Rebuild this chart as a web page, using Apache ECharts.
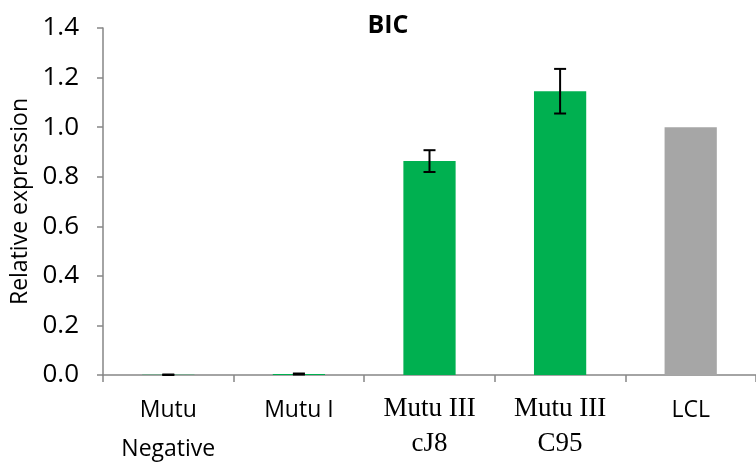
<!DOCTYPE html>
<html>
<head>
<meta charset="utf-8">
<script src="https://cdn.jsdelivr.net/npm/echarts@6/dist/echarts.min.js"></script>
<style>
  html, body { margin: 0; padding: 0; background: #fff; }
  #chart { width: 756px; height: 466px; }
</style>
</head>
<body>
<div id="chart"></div>
<script>
// Relative BIC expression per cell line, with standard-error bars
const categories = ['Mutu Negative', 'Mutu I', 'Mutu III cJ8', 'Mutu III C95', 'LCL'];
const expression = [0.001, 0.004, 0.863, 1.145, 1.0];
const errors = [0.001, 0.002, 0.044, 0.09, 0];
const yTicks = [0, 0.2, 0.4, 0.6, 0.8, 1.0, 1.2, 1.4];

// label text split over two lines, with the font family used for each
const labelLines = {
  'Mutu Negative': ['Mutu', 'Negative', 'sans'],
  'Mutu I': ['Mutu I', null, 'sans'],
  'Mutu III cJ8': ['Mutu III', 'cJ8', 'serif'],
  'Mutu III C95': ['Mutu III', 'C95', 'serif'],
  'LCL': ['LCL', null, 'sans']
};

const GREEN = '#00B050';
const GREY = '#A6A6A6';
const AXIS = '#868686';

const chart = echarts.init(document.getElementById('chart'), null, { renderer: 'canvas' });

const errData = categories.map((c, i) => [i, expression[i] - errors[i], expression[i] + errors[i]]);

chart.setOption({
  animation: false,
  backgroundColor: '#fff',
  title: {
    text: 'BIC',
    left: 383,
    top: 8,
    textAlign: 'center',
    textStyle: { fontFamily: 'Open Sans', fontWeight: 'bold', fontSize: 25, color: '#000' }
  },
  grid: { left: 103, top: 28, width: 661, height: 347, containLabel: false },
  xAxis: {
    type: 'category',
    data: categories,
    axisLine: { lineStyle: { color: AXIS, width: 1.5 } },
    axisTick: { show: true, length: 7, lineStyle: { color: AXIS, width: 1.5 } },
    axisLabel: {
      margin: 16,
      interval: 0,
      formatter: function (v) {
        const l = labelLines[v];
        const s = l[2];
        return l[1] ? '{' + s + '|' + l[0] + '}\n{' + s + '|' + l[1] + '}' : '{' + s + '|' + l[0] + '}';
      },
      rich: {
        sans: { fontFamily: 'Open Sans', fontSize: 23, color: '#000', lineHeight: 39 },
        serif: { fontFamily: 'Liberation Serif', fontSize: 27, color: '#000', lineHeight: 35 }
      }
    }
  },
  yAxis: {
    type: 'value',
    min: yTicks[0],
    max: yTicks[yTicks.length - 1],
    interval: 0.2,
    name: 'Relative expression',
    nameLocation: 'middle',
    nameRotate: 90,
    nameGap: 66,
    nameTextStyle: { fontFamily: 'Open Sans', fontSize: 23, color: '#000' },
    axisLine: { show: true, lineStyle: { color: AXIS, width: 1.5 } },
    axisTick: { show: true, length: 6, lineStyle: { color: AXIS, width: 1.5 } },
    splitLine: { show: false },
    axisLabel: {
      margin: 24,
      formatter: v => v.toFixed(1),
      fontFamily: 'Open Sans',
      fontSize: 26,
      color: '#000'
    }
  },
  series: [
    {
      type: 'bar',
      data: expression,
      barWidth: '40%',
      itemStyle: {
        color: p => (p.name === 'LCL' ? GREY : GREEN)
      }
    },
    {
      type: 'custom',
      data: errData,
      z: 10,
      renderItem: function (params, api) {
        const i = api.value(0);
        const lo = api.coord([i, api.value(1)]);
        const hi = api.coord([i, api.value(2)]);
        if (Math.abs(hi[1] - lo[1]) < 0.01) return null;
        const half = 6;
        const style = { stroke: '#000', lineWidth: 2, fill: null };
        return {
          type: 'group',
          children: [
            { type: 'line', shape: { x1: lo[0], y1: lo[1], x2: hi[0], y2: hi[1] }, style },
            { type: 'line', shape: { x1: hi[0] - half, y1: hi[1], x2: hi[0] + half, y2: hi[1] }, style },
            { type: 'line', shape: { x1: lo[0] - half, y1: lo[1], x2: lo[0] + half, y2: lo[1] }, style }
          ]
        };
      }
    }
  ]
});
</script>
</body>
</html>
